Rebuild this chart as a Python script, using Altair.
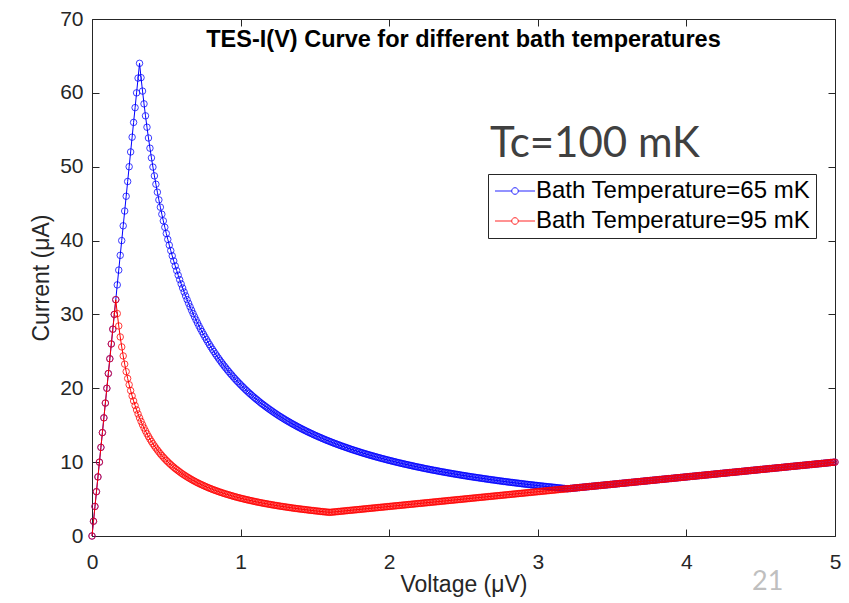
import altair as alt
import pandas as pd

S65 = "Bath Temperature=65 mK"
S95 = "Bath Temperature=95 mK"
TITLE = "TES-I(V) Curve for different bath temperatures"
NOTE = "Tc=100 mK"
SLIDE = "21"
X_TITLE = "Voltage (μV)"
Y_TITLE = "Current (μA)"

x_ticks = [0, 1, 2, 3, 4, 5]
y_ticks = [0, 10, 20, 30, 40, 50, 60, 70]

# superconducting (ohmic rise) branch, 65 mK
blue_rise_v = [0.00, 0.01, 0.02, 0.03, 0.04, 0.05, 0.06, 0.07, 0.08, 0.09,
               0.10, 0.11, 0.12, 0.13, 0.14, 0.15, 0.16, 0.17, 0.18, 0.19,
               0.20, 0.21, 0.22, 0.23, 0.24, 0.25, 0.26, 0.27, 0.28, 0.29,
               0.30, 0.31, 0.32]
blue_rise_i = [0, 2, 4, 6, 8, 10, 12, 14, 16, 18,
               20, 22, 24, 26, 28, 30, 32, 34, 36, 38,
               40, 42, 44, 46, 48, 50, 52, 54, 56, 58,
               60, 62, 64]

# transition (falling) branch, 65 mK
blue_fall_v = [0.33, 0.34, 0.35, 0.36, 0.37, 0.38, 0.39, 0.40, 0.41, 0.42,
               0.43, 0.44, 0.45, 0.46, 0.47, 0.48, 0.49, 0.50, 0.51, 0.52,
               0.53, 0.54, 0.55, 0.56, 0.57, 0.58, 0.59, 0.60,
               0.62, 0.64, 0.66, 0.68, 0.70, 0.72, 0.74, 0.76, 0.78, 0.80,
               0.82, 0.84, 0.86, 0.88, 0.90, 0.92, 0.94, 0.96, 0.98, 1.00,
               1.02, 1.04, 1.06, 1.08, 1.10, 1.12, 1.14, 1.16, 1.18, 1.20,
               1.22, 1.24, 1.26, 1.28, 1.30, 1.32, 1.34, 1.36, 1.38, 1.40,
               1.42, 1.44, 1.46, 1.48, 1.50, 1.52, 1.54, 1.56, 1.58, 1.60,
               1.62, 1.64, 1.66, 1.68, 1.70, 1.72, 1.74, 1.76, 1.78, 1.80,
               1.82, 1.84, 1.86, 1.88, 1.90, 1.92, 1.94, 1.96, 1.98, 2.00,
               2.02, 2.04, 2.06, 2.08, 2.10, 2.12, 2.14, 2.16, 2.18, 2.20,
               2.22, 2.24, 2.26, 2.28, 2.30, 2.32, 2.34, 2.36, 2.38, 2.40,
               2.42, 2.44, 2.46, 2.48, 2.50, 2.52, 2.54, 2.56, 2.58, 2.60,
               2.62, 2.64, 2.66, 2.68, 2.70, 2.72, 2.74, 2.76, 2.78, 2.80,
               2.82, 2.84, 2.86, 2.88, 2.90, 2.92, 2.94, 2.96, 2.98, 3.00,
               3.02, 3.04, 3.06, 3.08, 3.10, 3.12, 3.14, 3.16, 3.18]
blue_fall_i = [62.06, 60.24, 58.51, 56.89, 55.35, 53.89, 52.51, 51.20, 49.95, 48.76,
               47.63, 46.55, 45.51, 44.52, 43.57, 42.67, 41.80, 40.96, 40.16, 39.38,
               38.64, 37.93, 37.24, 36.57, 35.93, 35.31, 34.71, 34.13,
               33.03, 32.00, 31.03, 30.12, 29.26, 28.44, 27.68, 26.95, 26.26, 25.60,
               24.98, 24.38, 23.81, 23.27, 22.76, 22.26, 21.79, 21.33, 20.90, 20.48,
               20.08, 19.69, 19.32, 18.96, 18.62, 18.29, 17.96, 17.66, 17.36, 17.07,
               16.79, 16.52, 16.25, 16.00, 15.75, 15.52, 15.28, 15.06, 14.84, 14.63,
               14.42, 14.22, 14.03, 13.84, 13.65, 13.47, 13.30, 13.13, 12.96, 12.80,
               12.64, 12.49, 12.34, 12.19, 12.05, 11.91, 11.77, 11.64, 11.51, 11.38,
               11.25, 11.13, 11.01, 10.89, 10.78, 10.67, 10.56, 10.45, 10.34, 10.24,
               10.14, 10.04, 9.94, 9.85, 9.75, 9.66, 9.57, 9.48, 9.39, 9.31,
               9.23, 9.14, 9.06, 8.98, 8.90, 8.83, 8.75, 8.68, 8.61, 8.53,
               8.46, 8.39, 8.33, 8.26, 8.19, 8.13, 8.06, 8.00, 7.94, 7.88,
               7.82, 7.76, 7.70, 7.64, 7.59, 7.53, 7.47, 7.42, 7.37, 7.31,
               7.26, 7.21, 7.16, 7.11, 7.06, 7.01, 6.97, 6.92, 6.87, 6.83,
               6.78, 6.74, 6.69, 6.65, 6.61, 6.56, 6.52, 6.48, 6.44]
# in-between samples of the same 65 mK falling branch
blue_fall_v_odd = [0.61, 0.63, 0.65, 0.67, 0.69, 0.71, 0.73, 0.75, 0.77, 0.79,
                   0.81, 0.83, 0.85, 0.87, 0.89, 0.91, 0.93, 0.95, 0.97, 0.99,
                   1.01, 1.03, 1.05, 1.07, 1.09, 1.11, 1.13, 1.15, 1.17, 1.19,
                   1.21, 1.23, 1.25, 1.27, 1.29, 1.31, 1.33, 1.35, 1.37, 1.39,
                   1.41, 1.43, 1.45, 1.47, 1.49, 1.51, 1.53, 1.55, 1.57, 1.59,
                   1.61, 1.63, 1.65, 1.67, 1.69, 1.71, 1.73, 1.75, 1.77, 1.79,
                   1.81, 1.83, 1.85, 1.87, 1.89, 1.91, 1.93, 1.95, 1.97, 1.99,
                   2.01, 2.03, 2.05, 2.07, 2.09, 2.11, 2.13, 2.15, 2.17, 2.19,
                   2.21, 2.23, 2.25, 2.27, 2.29, 2.31, 2.33, 2.35, 2.37, 2.39,
                   2.41, 2.43, 2.45, 2.47, 2.49, 2.51, 2.53, 2.55, 2.57, 2.59,
                   2.61, 2.63, 2.65, 2.67, 2.69, 2.71, 2.73, 2.75, 2.77, 2.79,
                   2.81, 2.83, 2.85, 2.87, 2.89, 2.91, 2.93, 2.95, 2.97, 2.99,
                   3.01, 3.03, 3.05, 3.07, 3.09, 3.11, 3.13, 3.15, 3.17, 3.19]
blue_fall_i_odd = [33.57, 32.51, 31.51, 30.57, 29.68, 28.85, 28.05, 27.31, 26.60, 25.92,
                   25.28, 24.67, 24.09, 23.54, 23.01, 22.51, 22.02, 21.56, 21.11, 20.69,
                   20.28, 19.88, 19.50, 19.14, 18.79, 18.45, 18.12, 17.81, 17.50, 17.21,
                   16.93, 16.65, 16.38, 16.13, 15.88, 15.63, 15.40, 15.17, 14.95, 14.73,
                   14.52, 14.32, 14.12, 13.93, 13.74, 13.56, 13.39, 13.21, 13.04, 12.88,
                   12.72, 12.56, 12.41, 12.26, 12.12, 11.98, 11.84, 11.70, 11.57, 11.44,
                   11.31, 11.19, 11.07, 10.95, 10.84, 10.72, 10.61, 10.50, 10.40, 10.29,
                   10.19, 10.09, 9.99, 9.89, 9.80, 9.71, 9.62, 9.53, 9.44, 9.35,
                   9.27, 9.18, 9.10, 9.02, 8.94, 8.87, 8.79, 8.71, 8.64, 8.57,
                   8.50, 8.43, 8.36, 8.29, 8.22, 8.16, 8.09, 8.03, 7.97, 7.91,
                   7.85, 7.79, 7.73, 7.67, 7.61, 7.56, 7.50, 7.45, 7.39, 7.34,
                   7.29, 7.24, 7.19, 7.14, 7.09, 7.04, 6.99, 6.94, 6.90, 6.85,
                   6.80, 6.76, 6.71, 6.67, 6.63, 6.59, 6.54, 6.50, 6.46, 6.42]

# superconducting (ohmic rise) branch, 95 mK
red_rise_v = [0.00, 0.01, 0.02, 0.03, 0.04, 0.05, 0.06, 0.07, 0.08, 0.09,
              0.10, 0.11, 0.12, 0.13, 0.14, 0.15, 0.16]
red_rise_i = [0, 2, 4, 6, 8, 10, 12, 14, 16, 18,
              20, 22, 24, 26, 28, 30, 32]

# transition (falling) branch, 95 mK
red_fall_v = [0.17, 0.18, 0.19, 0.20, 0.21, 0.22, 0.23, 0.24, 0.25, 0.26,
              0.27, 0.28, 0.29, 0.30, 0.31, 0.32, 0.33, 0.34, 0.35, 0.36,
              0.37, 0.38, 0.39, 0.40,
              0.42, 0.44, 0.46, 0.48, 0.50, 0.52, 0.54, 0.56, 0.58, 0.60,
              0.62, 0.64, 0.66, 0.68, 0.70, 0.72, 0.74, 0.76, 0.78, 0.80,
              0.82, 0.84, 0.86, 0.88, 0.90, 0.92, 0.94, 0.96, 0.98, 1.00,
              1.02, 1.04, 1.06, 1.08, 1.10, 1.12, 1.14, 1.16, 1.18, 1.20,
              1.22, 1.24, 1.26, 1.28, 1.30, 1.32, 1.34, 1.36, 1.38, 1.40,
              1.42, 1.44, 1.46, 1.48, 1.50, 1.52, 1.54, 1.56, 1.58]
red_fall_i = [30.12, 28.44, 26.95, 25.60, 24.38, 23.27, 22.26, 21.33, 20.48, 19.69,
              18.96, 18.29, 17.66, 17.07, 16.52, 16.00, 15.52, 15.06, 14.63, 14.22,
              13.84, 13.47, 13.13, 12.80,
              12.19, 11.64, 11.13, 10.67, 10.24, 9.85, 9.48, 9.14, 8.83, 8.53,
              8.26, 8.00, 7.76, 7.53, 7.31, 7.11, 6.92, 6.74, 6.56, 6.40,
              6.24, 6.10, 5.95, 5.82, 5.69, 5.57, 5.45, 5.33, 5.22, 5.12,
              5.02, 4.92, 4.83, 4.74, 4.65, 4.57, 4.49, 4.41, 4.34, 4.27,
              4.20, 4.13, 4.06, 4.00, 3.94, 3.88, 3.82, 3.76, 3.71, 3.66,
              3.61, 3.56, 3.51, 3.46, 3.41, 3.37, 3.32, 3.28, 3.24]
# in-between samples of the same 95 mK falling branch
red_fall_v_odd = [0.41, 0.43, 0.45, 0.47, 0.49, 0.51, 0.53, 0.55, 0.57, 0.59,
                  0.61, 0.63, 0.65, 0.67, 0.69, 0.71, 0.73, 0.75, 0.77, 0.79,
                  0.81, 0.83, 0.85, 0.87, 0.89, 0.91, 0.93, 0.95, 0.97, 0.99,
                  1.01, 1.03, 1.05, 1.07, 1.09, 1.11, 1.13, 1.15, 1.17, 1.19,
                  1.21, 1.23, 1.25, 1.27, 1.29, 1.31, 1.33, 1.35, 1.37, 1.39,
                  1.41, 1.43, 1.45, 1.47, 1.49, 1.51, 1.53, 1.55, 1.57, 1.59]
red_fall_i_odd = [12.49, 11.91, 11.38, 10.89, 10.45, 10.04, 9.66, 9.31, 8.98, 8.68,
                  8.39, 8.13, 7.88, 7.64, 7.42, 7.21, 7.01, 6.83, 6.65, 6.48,
                  6.32, 6.17, 6.02, 5.89, 5.75, 5.63, 5.51, 5.39, 5.28, 5.17,
                  5.07, 4.97, 4.88, 4.79, 4.70, 4.61, 4.53, 4.45, 4.38, 4.30,
                  4.23, 4.16, 4.10, 4.03, 3.97, 3.91, 3.85, 3.79, 3.74, 3.68,
                  3.63, 3.58, 3.53, 3.48, 3.44, 3.39, 3.35, 3.30, 3.26, 3.22]

# normal-state branch shared by both curves (blue joins at 3.2 uV)
normal_v = [1.60, 1.62, 1.64, 1.66, 1.68, 1.70, 1.72, 1.74, 1.76, 1.78,
            1.80, 1.82, 1.84, 1.86, 1.88, 1.90, 1.92, 1.94, 1.96, 1.98,
            2.00, 2.02, 2.04, 2.06, 2.08, 2.10, 2.12, 2.14, 2.16, 2.18,
            2.20, 2.22, 2.24, 2.26, 2.28, 2.30, 2.32, 2.34, 2.36, 2.38,
            2.40, 2.42, 2.44, 2.46, 2.48, 2.50, 2.52, 2.54, 2.56, 2.58,
            2.60, 2.62, 2.64, 2.66, 2.68, 2.70, 2.72, 2.74, 2.76, 2.78,
            2.80, 2.82, 2.84, 2.86, 2.88, 2.90, 2.92, 2.94, 2.96, 2.98,
            3.00, 3.02, 3.04, 3.06, 3.08, 3.10, 3.12, 3.14, 3.16, 3.18,
            3.20, 3.22, 3.24, 3.26, 3.28, 3.30, 3.32, 3.34, 3.36, 3.38,
            3.40, 3.42, 3.44, 3.46, 3.48, 3.50, 3.52, 3.54, 3.56, 3.58,
            3.60, 3.62, 3.64, 3.66, 3.68, 3.70, 3.72, 3.74, 3.76, 3.78,
            3.80, 3.82, 3.84, 3.86, 3.88, 3.90, 3.92, 3.94, 3.96, 3.98,
            4.00, 4.02, 4.04, 4.06, 4.08, 4.10, 4.12, 4.14, 4.16, 4.18,
            4.20, 4.22, 4.24, 4.26, 4.28, 4.30, 4.32, 4.34, 4.36, 4.38,
            4.40, 4.42, 4.44, 4.46, 4.48, 4.50, 4.52, 4.54, 4.56, 4.58,
            4.60, 4.62, 4.64, 4.66, 4.68, 4.70, 4.72, 4.74, 4.76, 4.78,
            4.80, 4.82, 4.84, 4.86, 4.88, 4.90, 4.92, 4.94, 4.96, 4.98,
            5.00]
normal_i = [3.20, 3.24, 3.28, 3.32, 3.36, 3.40, 3.44, 3.48, 3.52, 3.56,
            3.60, 3.64, 3.68, 3.72, 3.76, 3.80, 3.84, 3.88, 3.92, 3.96,
            4.00, 4.04, 4.08, 4.12, 4.16, 4.20, 4.24, 4.28, 4.32, 4.36,
            4.40, 4.44, 4.48, 4.52, 4.56, 4.60, 4.64, 4.68, 4.72, 4.76,
            4.80, 4.84, 4.88, 4.92, 4.96, 5.00, 5.04, 5.08, 5.12, 5.16,
            5.20, 5.24, 5.28, 5.32, 5.36, 5.40, 5.44, 5.48, 5.52, 5.56,
            5.60, 5.64, 5.68, 5.72, 5.76, 5.80, 5.84, 5.88, 5.92, 5.96,
            6.00, 6.04, 6.08, 6.12, 6.16, 6.20, 6.24, 6.28, 6.32, 6.36,
            6.40, 6.44, 6.48, 6.52, 6.56, 6.60, 6.64, 6.68, 6.72, 6.76,
            6.80, 6.84, 6.88, 6.92, 6.96, 7.00, 7.04, 7.08, 7.12, 7.16,
            7.20, 7.24, 7.28, 7.32, 7.36, 7.40, 7.44, 7.48, 7.52, 7.56,
            7.60, 7.64, 7.68, 7.72, 7.76, 7.80, 7.84, 7.88, 7.92, 7.96,
            8.00, 8.04, 8.08, 8.12, 8.16, 8.20, 8.24, 8.28, 8.32, 8.36,
            8.40, 8.44, 8.48, 8.52, 8.56, 8.60, 8.64, 8.68, 8.72, 8.76,
            8.80, 8.84, 8.88, 8.92, 8.96, 9.00, 9.04, 9.08, 9.12, 9.16,
            9.20, 9.24, 9.28, 9.32, 9.36, 9.40, 9.44, 9.48, 9.52, 9.56,
            9.60, 9.64, 9.68, 9.72, 9.76, 9.80, 9.84, 9.88, 9.92, 9.96,
            10.00]
normal_v_odd = [1.61, 1.63, 1.65, 1.67, 1.69, 1.71, 1.73, 1.75, 1.77, 1.79,
                1.81, 1.83, 1.85, 1.87, 1.89, 1.91, 1.93, 1.95, 1.97, 1.99,
                2.01, 2.03, 2.05, 2.07, 2.09, 2.11, 2.13, 2.15, 2.17, 2.19,
                2.21, 2.23, 2.25, 2.27, 2.29, 2.31, 2.33, 2.35, 2.37, 2.39,
                2.41, 2.43, 2.45, 2.47, 2.49, 2.51, 2.53, 2.55, 2.57, 2.59,
                2.61, 2.63, 2.65, 2.67, 2.69, 2.71, 2.73, 2.75, 2.77, 2.79,
                2.81, 2.83, 2.85, 2.87, 2.89, 2.91, 2.93, 2.95, 2.97, 2.99,
                3.01, 3.03, 3.05, 3.07, 3.09, 3.11, 3.13, 3.15, 3.17, 3.19,
                3.21, 3.23, 3.25, 3.27, 3.29, 3.31, 3.33, 3.35, 3.37, 3.39,
                3.41, 3.43, 3.45, 3.47, 3.49, 3.51, 3.53, 3.55, 3.57, 3.59,
                3.61, 3.63, 3.65, 3.67, 3.69, 3.71, 3.73, 3.75, 3.77, 3.79,
                3.81, 3.83, 3.85, 3.87, 3.89, 3.91, 3.93, 3.95, 3.97, 3.99,
                4.01, 4.03, 4.05, 4.07, 4.09, 4.11, 4.13, 4.15, 4.17, 4.19,
                4.21, 4.23, 4.25, 4.27, 4.29, 4.31, 4.33, 4.35, 4.37, 4.39,
                4.41, 4.43, 4.45, 4.47, 4.49, 4.51, 4.53, 4.55, 4.57, 4.59,
                4.61, 4.63, 4.65, 4.67, 4.69, 4.71, 4.73, 4.75, 4.77, 4.79,
                4.81, 4.83, 4.85, 4.87, 4.89, 4.91, 4.93, 4.95, 4.97, 4.99]
normal_i_odd = [3.22, 3.26, 3.30, 3.34, 3.38, 3.42, 3.46, 3.50, 3.54, 3.58,
                3.62, 3.66, 3.70, 3.74, 3.78, 3.82, 3.86, 3.90, 3.94, 3.98,
                4.02, 4.06, 4.10, 4.14, 4.18, 4.22, 4.26, 4.30, 4.34, 4.38,
                4.42, 4.46, 4.50, 4.54, 4.58, 4.62, 4.66, 4.70, 4.74, 4.78,
                4.82, 4.86, 4.90, 4.94, 4.98, 5.02, 5.06, 5.10, 5.14, 5.18,
                5.22, 5.26, 5.30, 5.34, 5.38, 5.42, 5.46, 5.50, 5.54, 5.58,
                5.62, 5.66, 5.70, 5.74, 5.78, 5.82, 5.86, 5.90, 5.94, 5.98,
                6.02, 6.06, 6.10, 6.14, 6.18, 6.22, 6.26, 6.30, 6.34, 6.38,
                6.42, 6.46, 6.50, 6.54, 6.58, 6.62, 6.66, 6.70, 6.74, 6.78,
                6.82, 6.86, 6.90, 6.94, 6.98, 7.02, 7.06, 7.10, 7.14, 7.18,
                7.22, 7.26, 7.30, 7.34, 7.38, 7.42, 7.46, 7.50, 7.54, 7.58,
                7.62, 7.66, 7.70, 7.74, 7.78, 7.82, 7.86, 7.90, 7.94, 7.98,
                8.02, 8.06, 8.10, 8.14, 8.18, 8.22, 8.26, 8.30, 8.34, 8.38,
                8.42, 8.46, 8.50, 8.54, 8.58, 8.62, 8.66, 8.70, 8.74, 8.78,
                8.82, 8.86, 8.90, 8.94, 8.98, 9.02, 9.06, 9.10, 9.14, 9.18,
                9.22, 9.26, 9.30, 9.34, 9.38, 9.42, 9.46, 9.50, 9.54, 9.58,
                9.62, 9.66, 9.70, 9.74, 9.78, 9.82, 9.86, 9.90, 9.94, 9.98]

BLUE_JOIN_V = 3.20

rows = []
for v, i in zip(blue_rise_v + blue_fall_v + blue_fall_v_odd,
                blue_rise_i + blue_fall_i + blue_fall_i_odd):
    rows.append((S65, v, i))
for v, i in zip(normal_v + normal_v_odd, normal_i + normal_i_odd):
    if v >= BLUE_JOIN_V - 1e-9:
        rows.append((S65, v, i))
for v, i in zip(red_rise_v + red_fall_v + red_fall_v_odd,
                red_rise_i + red_fall_i + red_fall_i_odd):
    rows.append((S95, v, i))
for v, i in zip(normal_v + normal_v_odd, normal_i + normal_i_odd):
    rows.append((S95, v, i))
df = pd.DataFrame(rows, columns=["series", "V", "I"]).sort_values(["series", "V"]).reset_index(drop=True)

W, H = 743, 517
FONT = "Liberation Sans"
AX = "#262626"

xs = alt.Scale(domain=[0, 5], nice=False, zero=False)
ys = alt.Scale(domain=[0, 70], nice=False, zero=False)

ax_x_main = alt.Axis(orient="bottom", values=x_ticks, ticks=False, tickSize=0, domain=False,
                     grid=False, labelFont=FONT, labelFontSize=21, labelColor=AX,
                     labelPadding=15, labelFlush=False, format="d", titleFont=FONT,
                     titleFontSize=23, titleFontWeight="normal", titleColor=AX, titlePadding=1)
ax_y_main = alt.Axis(orient="left", values=y_ticks, ticks=False, tickSize=0, domain=False,
                     grid=False, labelFont=FONT, labelFontSize=21, labelColor=AX,
                     labelPadding=9, labelFlush=False, format="d", titleFont=FONT,
                     titleFontSize=23, titleFontWeight="normal", titleColor=AX, titlePadding=6)
ax_x_in_bottom = alt.Axis(orient="top", offset=-H, values=x_ticks, labels=False, domain=False,
                          grid=False, ticks=True, tickSize=7, tickColor=AX, tickWidth=1)
ax_x_in_top = alt.Axis(orient="bottom", offset=-H, values=x_ticks, labels=False, domain=False,
                       grid=False, ticks=True, tickSize=7, tickColor=AX, tickWidth=1)
ax_y_in_left = alt.Axis(orient="right", offset=-W, values=y_ticks, labels=False, domain=False,
                        grid=False, ticks=True, tickSize=7, tickColor=AX, tickWidth=1)
ax_y_in_right = alt.Axis(orient="left", offset=-W, values=y_ticks, labels=False, domain=False,
                         grid=False, ticks=True, tickSize=7, tickColor=AX, tickWidth=1)

SYMBOL = "M-4,0L-0.66,0M0.66,0L4,0M0.66,0A0.66,0.66,0,1,1,-0.66,0A0.66,0.66,0,1,1,0.66,0"
legend = alt.Legend(orient="none", legendX=396, legendY=155, title=None,
                    labelFont=FONT, labelFontSize=24, labelColor="black", labelLimit=500,
                    symbolType=SYMBOL, symbolSize=100, symbolStrokeWidth=1,
                    symbolOffset=10, labelOffset=9,
                    strokeColor=AX, fillColor="white", padding=5, rowPadding=6)
color = alt.Color("series:N", scale=alt.Scale(domain=[S65, S95], range=["#0000ff", "#ff0000"]),
                  legend=legend)

base = alt.Chart(df)
blue = base.transform_filter(alt.datum.series == S65)
red = base.transform_filter(alt.datum.series == S95)

blue_line = blue.mark_line(strokeWidth=1, color="#0000ff").encode(
    x=alt.X("V:Q", scale=xs, axis=ax_x_main, title=X_TITLE),
    y=alt.Y("I:Q", scale=ys, axis=ax_y_main, title=Y_TITLE),
)
blue_pts = blue.mark_point(shape="circle", filled=False, size=42, strokeWidth=0.9, opacity=0.85).encode(
    x=alt.X("V:Q", scale=xs, axis=ax_x_in_bottom, title=None),
    y=alt.Y("I:Q", scale=ys, axis=ax_y_in_left, title=None),
    color=color,
)
red_line = red.mark_line(strokeWidth=1, color="#ff0000").encode(
    x=alt.X("V:Q", scale=xs, axis=ax_x_in_top, title=None),
    y=alt.Y("I:Q", scale=ys, axis=ax_y_in_right, title=None),
)
red_pts = red.mark_point(shape="circle", filled=False, size=42, strokeWidth=0.9, opacity=0.85).encode(
    x=alt.X("V:Q", scale=xs, axis=None),
    y=alt.Y("I:Q", scale=ys, axis=None),
    color=color,
)

title_txt = alt.Chart(pd.DataFrame({"t": [TITLE]})).mark_text(
    font=FONT, fontSize=23.5, fontWeight="bold", color="black", align="center", baseline="alphabetic"
).encode(text="t:N", x=alt.value(W / 2), y=alt.value(28))
note_txt = alt.Chart(pd.DataFrame({"t": [NOTE]})).mark_text(
    font="Lato", fontSize=42, color="#404040", align="left", baseline="alphabetic"
).encode(text="t:N", x=alt.value(398), y=alt.value(138))
slide_txt = alt.Chart(pd.DataFrame({"t": [SLIDE]})).mark_text(
    font="Lato", fontSize=27, color="#bfbfbf", align="left", baseline="alphabetic"
).encode(text="t:N", x=alt.value(660), y=alt.value(571))

chart = alt.layer(blue_line, blue_pts, red_line, red_pts, title_txt, note_txt, slide_txt).resolve_axis(
    x="independent", y="independent"
).properties(
    width=W, height=H,
    autosize=alt.AutoSizeParams(type="none"),
    padding={"left": 92, "top": 19, "right": 14, "bottom": 67},
    background="white",
).configure_view(stroke=AX, strokeWidth=1)

chart.save("out.html", embed_options={"renderer": "svg", "actions": False})
